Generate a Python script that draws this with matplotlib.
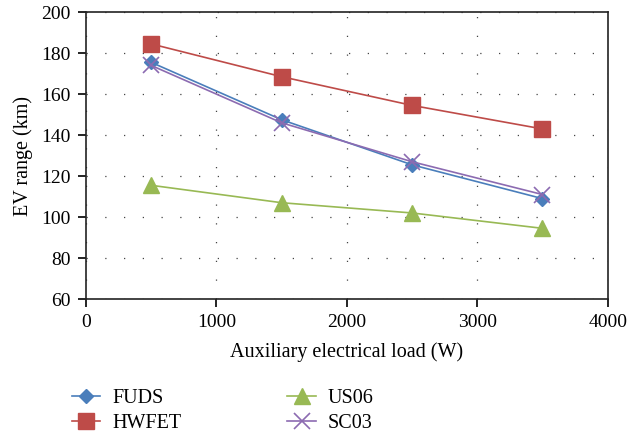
import matplotlib
matplotlib.use("Agg")
from matplotlib import pyplot as plt

plt.rcParams['font.family'] = ['Liberation Serif', 'DejaVu Serif']

# auxiliary load (W)
loads = [500, 1500, 2500, 3500]

fuds = [175.5, 147.5, 125.5, 109]
hwfet = [184.5, 168.5, 154.5, 143]
us06 = [115.5, 107, 102, 94.5]
sc03 = [174, 146, 127, 111]

fig = plt.figure(figsize=(6.37, 4.34), dpi=100)
ax = fig.add_axes([0.135, 0.311, 0.819, 0.661])

ax.plot(loads, fuds, color='#4a7ebb', marker='D', markersize=7, lw=1.2, label='FUDS')
ax.plot(loads, hwfet, color='#be4b48', marker='s', markersize=11, lw=1.2, label='HWFET')
ax.plot(loads, us06, color='#98b954', marker='^', markersize=11, lw=1.2, label='US06')
ax.plot(loads, sc03, color='#8c6bb1', marker='x', markersize=11, markeredgewidth=1.2, lw=1.2, label='SC03')

ax.set_xlim(0, 4000)
ax.set_ylim(60, 200)
ax.set_xticks([0, 1000, 2000, 3000, 4000])
ax.set_yticks(range(60, 201, 20))
ax.grid(True, color='#444444', linestyle=(0, (1, 14)), linewidth=0.9)
ax.tick_params(labelsize=14, direction='out', length=6, width=1.2, pad=5, top=False, right=False)
for s in ax.spines.values():
    s.set_linewidth(1.2)
    s.set_color('#222222')

ax.set_xlabel('Auxiliary electrical load (W)', fontsize=14.5, labelpad=8)
ax.set_ylabel('EV range (km)', fontsize=14.5, labelpad=6)

ax.legend(loc='upper left', bbox_to_anchor=(-0.061, -0.25), ncol=2, frameon=False,
          fontsize=14.5, columnspacing=5.25, handlelength=1.4, handletextpad=0.6,
          labelspacing=0.3)

fig.savefig('out.png', dpi=100)
